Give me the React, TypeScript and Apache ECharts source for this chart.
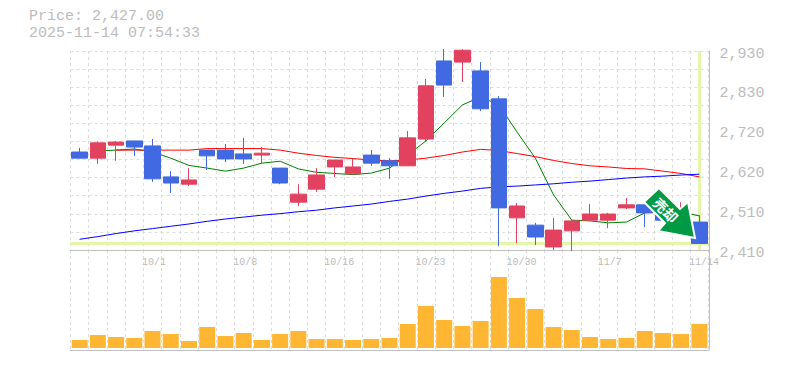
import React, { useEffect, useRef } from "react";
import * as echarts from "echarts";

const categories = ["9/25","9/26","9/29","9/30","10/1","10/2","10/3","10/6","10/7","10/8","10/9","10/10","10/14","10/15","10/16","10/17","10/20","10/21","10/22","10/23","10/24","10/27","10/28","10/29","10/30","10/31","11/4","11/5","11/6","11/7","11/10","11/11","11/12","11/13","11/14"];
// open, close, low, high
const ohlc = [
  [2666,2650,2650,2677],[2650,2690,2635,2694],[2684,2692,2643,2695],[2695,2679,2656,2695],[2682,2596,2588,2700],
  [2601,2585,2559,2616],[2582,2593,2577,2624],[2671,2656,2619,2671],[2671,2648,2640,2687],[2661,2648,2635,2703],
  [2658,2663,2635,2679],[2624,2585,2582,2624],[2535,2556,2525,2582],[2569,2606,2562,2624],[2627,2645,2601,2645],
  [2609,2627,2609,2650],[2658,2637,2630,2671],[2643,2630,2596,2650],[2630,2703,2630,2721],[2700,2839,2692,2857],
  [2904,2841,2810,2935],[2901,2932,2849,2935],[2878,2779,2773,2901],[2805,2520,2420,2812],[2494,2525,2428,2533],
  [2475,2444,2423,2481],[2418,2462,2410,2494],[2460,2486,2407,2488],[2488,2504,2486,2530],[2488,2504,2467,2507],
  [2520,2528,2517,2546],[2528,2507,2470,2528],[2520,2488,2483,2528],[2475,2509,2470,2535],[2483,2427,2427,2501],
];
const maShort = [null,2669,2671,2674,2666,2650,2631,2624,2616,2624,2637,2642,2622,2613,2610,2607,2611,2624,2658,2695,2742,2789,2810,2789,2718,2650,2554,2488,2486,2481,2483,2507,2512,2509,2499];
const maMid = [null,null,2671,2671,2671,2671,2671,2675,2675,2675,2675,2671,2663,2657,2652,2649,2645,2643,2645,2650,2657,2666,2673,2670,2662,2654,2644,2636,2630,2627,2623,2622,2616,2610,2601];
const maLong = [2438,2445,2453,2460,2466,2472,2478,2485,2491,2496,2501,2505,2510,2514,2520,2525,2530,2537,2543,2551,2558,2564,2571,2575,2577,2580,2583,2587,2590,2594,2598,2601,2603,2606,2608];
const volume = [8,13,11,10,17,14,7,21,12,15,8,14,17,9,9,8,9,10,24,42,28,22,27,71,50,39,21,18,11,9,10,17,15,14,24];
const yLabelValues = [2410,2514,2618,2722,2826,2930];
const yGridValues = [2410,2457.3,2504.5,2551.8,2599.1,2646.4,2693.6,2740.9,2788.2,2835.5,2882.7,2930];
const lastPrice = 2427;
const titleLines = ["Price: 2,427.00","2025-11-14 07:54:33"];
const signalText = "売却";

const mono = "'Liberation Mono', monospace";
const grey = "#bcbcbc";
const dash = { color: "#dddddd", type: [3,3] as any, width: 1 };
const arrow = [[659,188],[680,209],[688,202],[695,238],[658,231],[665,223],[644,202]];

export default function App() {
  const ref = useRef<HTMLDivElement>(null);
  useEffect(() => {
    const chart = echarts.init(ref.current!, null, { renderer: "svg" });
    const xBase = {
      type: "category", data: categories, boundaryGap: true,
      axisTick: { show: false },
      axisLine: { show: true, onZero: false, lineStyle: { color: "#c0c0c0", width: 1 } },
      splitLine: { show: true, interval: 0, lineStyle: dash },
    };
    chart.setOption({
      animation: false,
      textStyle: { fontFamily: mono },
      grid: [
        { left: 70.5, width: 638, top: 51, height: 199 },
        { left: 70.5, width: 638, top: 250, height: 100 },
      ],
      xAxis: [
        { ...xBase, gridIndex: 0, axisLabel: {
            show: true, interval: (i: number) => (i + 1) % 5 === 0, margin: 7, color: grey, fontSize: 10, fontFamily: mono,
            padding: [0,0,0,9], hideOverlap: false,
            formatter: (v: string) => `{d|${v}}`,
            rich: { d: { width: 30, align: "left", color: grey, fontSize: 10, fontFamily: mono } },
          } },
        { ...xBase, gridIndex: 1, axisLabel: { show: false } },
      ],
      yAxis: [
        {
          type: "value", gridIndex: 0, min: 2410, max: 2930, position: "right", offset: 1, scale: true,
          axisLine: { show: true, lineStyle: { color: "#c0c0c0" } },
          axisTick: { show: false, customValues: yGridValues },
          axisLabel: { customValues: yLabelValues, margin: 10, color: grey, fontSize: 15, fontFamily: mono, align: "left", verticalAlign: "top", lineHeight: 6,
            showMinLabel: true, showMaxLabel: true,
            formatter: (v: number) => (Math.round(v / 10) * 10).toLocaleString("en-US") },
          splitLine: { show: true, lineStyle: dash },
        },
        {
          type: "value", gridIndex: 1, min: -2, max: 98, position: "right", offset: 1,
          axisLine: { show: true, lineStyle: { color: "#c0c0c0" } },
          axisTick: { show: false }, axisLabel: { show: false }, splitLine: { show: false },
        },
      ],
      series: [
        {
          name: "Price", type: "candlestick", xAxisIndex: 0, yAxisIndex: 0, data: ohlc, barWidth: 16, clip: true, z: 4,
          itemStyle: { color: "#e2415f", color0: "#4169e1", borderColor: "#e2415f", borderColor0: "#4169e1", borderWidth: 1 },
          markLine: {
            silent: true, symbol: "none", z: 1, animation: false, label: { show: false },
            lineStyle: { color: "#e3f6a9", width: 3, type: "solid" },
            data: [{ yAxis: lastPrice }, { xAxis: categories[categories.length - 1] }],
          },
        },
        { name: "MA short", type: "line", data: maShort, symbol: "none", z: 2, lineStyle: { color: "#008000", width: 1 } },
        { name: "MA mid", type: "line", data: maMid, symbol: "none", z: 2, lineStyle: { color: "#ff0000", width: 1 } },
        { name: "MA long", type: "line", data: maLong, symbol: "none", z: 2, lineStyle: { color: "#0000ff", width: 1 } },
        { name: "Volume", type: "bar", xAxisIndex: 1, yAxisIndex: 1, data: volume, barWidth: 16, itemStyle: { color: "#ffb733" } },
      ],
      graphic: [
        { type: "text", left: 29, top: 9, style: { text: titleLines[0], font: `15px ${mono}`, fill: grey } },
        { type: "text", left: 29, top: 26, style: { text: titleLines[1], font: `15px ${mono}`, fill: grey } },
        { type: "polygon", z: 100, shape: { points: arrow }, style: { fill: "#009944", stroke: "#ffffff", lineWidth: 2 } },
        { type: "text", z: 101, x: 666, y: 210, rotation: -Math.PI / 4, style: { text: signalText, font: "bold 14px 'Noto Sans CJK JP'", fill: "#ffffff", align: "center", verticalAlign: "middle" } },
      ],
    });
    return () => chart.dispose();
  }, []);
  return <div ref={ref} style={{ position: "absolute", left: 0, top: 0, width: 785, height: 370 }} />;
}
